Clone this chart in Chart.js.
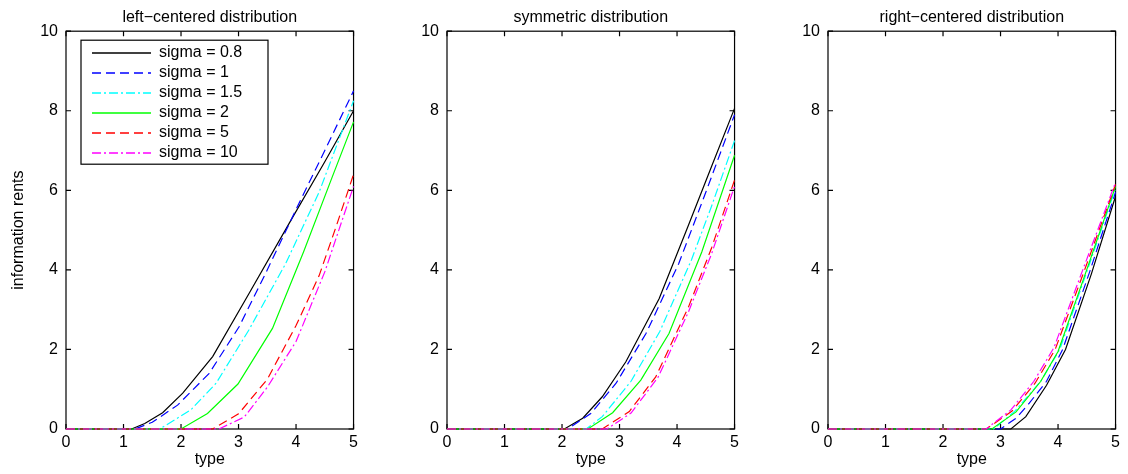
<!DOCTYPE html>
<html>
<head>
<meta charset="utf-8">
<script src="https://cdn.jsdelivr.net/npm/chart.js@4.4.0/dist/chart.umd.min.js"></script>
<style>
    body { margin: 0; background: #fff; width: 1128px; height: 474px; overflow: hidden; position: relative; }
    .panel { position: absolute; top: 0; }
</style>
</head>
<body>
<div class="panel" style="left:0px"><canvas id="leftPanel" width="362" height="474"></canvas></div>
<div class="panel" style="left:400px"><canvas id="symPanel" width="343" height="474"></canvas></div>
<div class="panel" style="left:781px"><canvas id="rightPanel" width="343" height="474"></canvas></div>
<script>
// legend labels and axis ticks
var sigmaLabels = ['sigma = 0.8', 'sigma = 1', 'sigma = 1.5', 'sigma = 2', 'sigma = 5', 'sigma = 10'];
var xTicks = [0, 1, 2, 3, 4, 5];
var yTicks = [0, 2, 4, 6, 8, 10];

// left-centered distribution : [type, information rent]
var leftS08 = [[0, 0], [1.14, 0], [1.37, 0.14], [1.68, 0.41], [2.03, 0.9], [2.55, 1.82], [3.2, 3.45], [3.9, 5.22], [4.5, 6.72], [5, 8.0]];
var leftS1 = [[0, 0], [1.2, 0], [1.5, 0.17], [1.94, 0.6], [2.49, 1.4], [3.01, 2.57], [3.47, 3.91], [4.05, 5.67], [4.5, 7.0], [5, 8.5]];
var leftS15 = [[0, 0], [1.63, 0], [2.17, 0.48], [2.61, 1.15], [3.18, 2.49], [3.82, 4.16], [4.4, 5.95], [5, 8.25]];
var leftS2 = [[0, 0], [2.0, 0], [2.46, 0.39], [2.99, 1.13], [3.59, 2.53], [4.13, 4.45], [4.62, 6.3], [5, 7.72]];
var leftS5 = [[0, 0], [2.55, 0], [3.0, 0.38], [3.5, 1.25], [4.0, 2.6], [4.4, 3.85], [4.7, 5.1], [5, 6.4]];
var leftS10 = [[0, 0], [2.66, 0], [3.1, 0.3], [3.5, 1.05], [4.0, 2.2], [4.5, 3.95], [5, 6.1]];

// symmetric distribution
var symS08 = [[0, 0], [2.04, 0], [2.36, 0.27], [2.7, 0.81], [3.11, 1.69], [3.69, 3.28], [4.2, 5.13], [4.6, 6.6], [5, 8.06]];
var symS1 = [[0, 0], [2.1, 0], [2.5, 0.39], [2.94, 1.15], [3.46, 2.4], [4.03, 4.16], [4.5, 5.95], [5, 7.9]];
var symS15 = [[0, 0], [2.42, 0], [2.7, 0.31], [3.2, 1.2], [3.7, 2.45], [4.25, 4.25], [4.6, 5.6], [5, 7.25]];
var symS2 = [[0, 0], [2.45, 0], [2.88, 0.41], [3.37, 1.23], [3.86, 2.4], [4.43, 4.45], [5, 6.88]];
var symS5 = [[0, 0], [2.7, 0], [3.17, 0.44], [3.63, 1.31], [4.2, 3.07], [4.6, 4.55], [5, 6.26]];
var symS10 = [[0, 0], [2.78, 0], [3.2, 0.4], [3.67, 1.3], [4.2, 2.95], [4.6, 4.4], [5, 6.1]];

// right-centered distribution
var rightS08 = [[0, 0], [3.18, 0], [3.44, 0.31], [3.8, 1.1], [4.13, 2.0], [4.58, 3.9], [5, 5.85]];
var rightS1 = [[0, 0], [3.0, 0], [3.27, 0.27], [3.5, 0.65], [3.8, 1.2], [4.08, 2.0], [4.55, 3.95], [5, 5.95]];
var rightS15 = [[0, 0], [2.88, 0], [3.25, 0.45], [3.7, 1.2], [4.03, 2.0], [4.5, 3.95], [5, 6.05]];
var rightS2 = [[0, 0], [2.85, 0], [3.27, 0.43], [3.7, 1.2], [4.0, 1.95], [4.45, 3.8], [5, 6.1]];
var rightS5 = [[0, 0], [2.75, 0], [3.2, 0.45], [3.6, 1.15], [3.95, 2.0], [4.45, 3.95], [5, 6.15]];
var rightS10 = [[0, 0], [2.75, 0], [3.18, 0.48], [3.58, 1.2], [3.93, 2.05], [4.43, 4.0], [5, 6.2]];

// line styles (matlab k-, b--, c-., g-, r--, m-.)
var lineColors = ['#000000', '#0000ff', '#00ffff', '#00ff00', '#ff0000', '#ff00ff'];
var lineDashes = [[], [9, 5], [9, 3, 2, 3], [], [9, 5], [9, 3, 2, 3]];

var fontFamily = "'Liberation Sans', Arial, sans-serif";
Chart.defaults.font.family = fontFamily;
Chart.defaults.font.size = 16;
Chart.defaults.color = '#000';

/**
 * Box + inward ticks on the four sides, drawn under the lines
 */
var matlabBox = {
    id: 'matlabBox',
    beforeDatasetsDraw: function (chart) {
        var ctx = chart.ctx;
        var a = chart.chartArea;
        var xs = chart.scales.x;
        var ys = chart.scales.y;
        var tick = 5;
        ctx.save();
        ctx.strokeStyle = '#000';
        ctx.lineWidth = 1.2;
        ctx.strokeRect(a.left, a.top, a.right - a.left, a.bottom - a.top);
        ctx.beginPath();
        xTicks.forEach(function (v) {
            var px = xs.getPixelForValue(v);
            ctx.moveTo(px, a.bottom); ctx.lineTo(px, a.bottom - tick);
            ctx.moveTo(px, a.top); ctx.lineTo(px, a.top + tick);
        });
        yTicks.forEach(function (v) {
            var py = ys.getPixelForValue(v);
            ctx.moveTo(a.left, py); ctx.lineTo(a.left + tick, py);
            ctx.moveTo(a.right, py); ctx.lineTo(a.right - tick, py);
        });
        ctx.stroke();
        ctx.restore();
    }
};

/**
 * Legend in a white box at the top left of the plot
 */
var legendBox = {
    id: 'legendBox',
    afterDatasetsDraw: function (chart, args, opts) {
        if (!opts.show) return;
        var ctx = chart.ctx;
        var a = chart.chartArea;
        var left = a.left + 15, top = a.top + 9, w = 187, h = 124;
        ctx.save();
        ctx.fillStyle = '#fff';
        ctx.fillRect(left, top, w, h);
        ctx.strokeStyle = '#000';
        ctx.lineWidth = 1.2;
        ctx.strokeRect(left, top, w, h);
        ctx.font = '16px ' + fontFamily;
        ctx.textBaseline = 'middle';
        for (var i = 0; i < sigmaLabels.length; i++) {
            var y = Math.round(top + 12.7 + i * 20.06);
            ctx.save();
            ctx.lineWidth = 1.6;
            ctx.strokeStyle = lineColors[i];
            ctx.setLineDash(lineDashes[i]);
            ctx.beginPath();
            ctx.moveTo(left + 11, y);
            ctx.lineTo(left + 70, y);
            ctx.stroke();
            ctx.restore();
            ctx.fillStyle = '#000';
            ctx.fillText(sigmaLabels[i], left + 78, y);
        }
        ctx.restore();
    }
};

/**
 * Builds one of the three panels
 * @param id canvas id
 * @param title panel title
 * @param series the six [type, rent] arrays
 * @param yLabel y axis title ('' for none)
 * @param yWidth width kept for the y axis
 * @param showLegend draw the legend box
 */
function buildPanel(id, title, series, yLabel, yWidth, showLegend) {
    var datasets = series.map(function (pts, i) {
        return {
            label: sigmaLabels[i],
            data: pts.map(function (p) { return {x: p[0], y: p[1]}; }),
            borderColor: lineColors[i],
            borderDash: lineDashes[i],
            borderWidth: 1.2,
            pointRadius: 0,
            tension: 0,
            clip: 2,
            order: 6 - i
        };
    });

    new Chart(document.getElementById(id).getContext('2d'), {
        type: 'line',
        data: {datasets: datasets},
        options: {
            responsive: false,
            animation: false,
            layout: {padding: {left: 0, right: 7, top: 0, bottom: 0}},
            scales: {
                x: {
                    type: 'linear', min: 0, max: 5,
                    grid: {display: false, drawTicks: false},
                    border: {display: false},
                    ticks: {stepSize: 1, padding: 4},
                    title: {display: true, text: 'type', padding: {top: 0, bottom: 5}},
                    afterFit: function (scale) { scale.height = 45; }
                },
                y: {
                    type: 'linear', min: 0, max: 10,
                    grid: {display: false, drawTicks: false},
                    border: {display: false},
                    ticks: {stepSize: 2, padding: 8},
                    title: {display: yLabel !== '', text: yLabel, padding: {top: 9, bottom: 0}},
                    afterFit: function (scale) { scale.width = yWidth; }
                }
            },
            plugins: {
                legend: {display: false},
                tooltip: {enabled: false},
                title: {
                    display: true, text: title, fullSize: false,
                    font: {size: 16, weight: 'normal'}, padding: {top: 8, bottom: 4}
                },
                legendBox: {show: showLegend}
            }
        },
        plugins: [matlabBox, legendBox]
    });
}

buildPanel('leftPanel', 'left\u2212centered distribution',
    [leftS08, leftS1, leftS15, leftS2, leftS5, leftS10], 'information rents', 66, true);
buildPanel('symPanel', 'symmetric distribution',
    [symS08, symS1, symS15, symS2, symS5, symS10], '', 47, false);
buildPanel('rightPanel', 'right\u2212centered distribution',
    [rightS08, rightS1, rightS15, rightS2, rightS5, rightS10], '', 47, false);
</script>
</body>
</html>
